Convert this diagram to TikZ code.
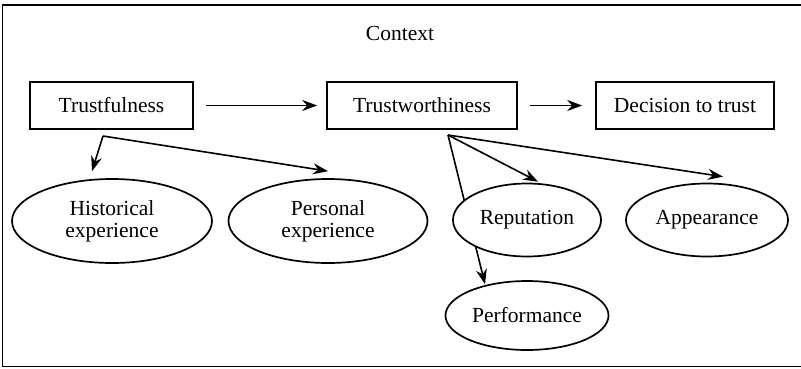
\documentclass[tikz,border=0pt]{standalone}
\usepackage{fontspec}
\setmainfont{Liberation Serif}
\usetikzlibrary{arrows.meta}
\usetikzlibrary{shapes}
\usetikzlibrary{backgrounds}

\begin{document}
\begin{tikzpicture}[x = 1pt, y = -1pt, font = \fontsize{21.5}{22}\selectfont]
	\tikzstyle{BoxStyle} = [shape = rectangle, draw, line width = 1.7pt, minimum height = 47pt, inner sep = 0pt]
	\tikzstyle{OvalStyle} = [shape = ellipse, draw, fill = white, line width = 1.7pt, inner sep = 0pt, align = center]
	\tikzstyle{LinkStyle} = [-{Stealth[length = 15pt, width = 11pt, inset = 5pt]}, line width = 1.6pt]
	\useasboundingbox (0, 0) rectangle (801, 368);
	\draw[line width = 1.8pt] (2.5, 5) rectangle (806, 366.5);
	\node (ctx) at (400, 33) {Context};
	\node[style = BoxStyle, minimum width = 163pt] (tf) at (111.5, 105.5) {Trustfulness};
	\node[style = BoxStyle, minimum width = 190pt] (tw) at (422, 105.5) {Trustworthiness};
	\node[style = BoxStyle, minimum width = 178pt] (dt) at (685, 105.5) {Decision to trust};
	\node[style = OvalStyle, minimum width = 200pt, minimum height = 84pt] (hist) at (112, 221) {Historical\\experience};
	\node[style = OvalStyle, minimum width = 199pt, minimum height = 84pt] (pers) at (328, 221) {Personal\\experience};
	\node[style = OvalStyle, minimum width = 148pt, minimum height = 73pt] (rep) at (527, 220) {Reputation};
	\node[style = OvalStyle, minimum width = 162pt, minimum height = 73pt] (app) at (707, 220) {Appearance};
	\node[style = OvalStyle, minimum width = 163pt, minimum height = 69pt] (perf) at (527, 315.5) {Performance};
	\coordinate (tfOut) at (103, 136);
	\coordinate (twOut) at (448, 135);
	\begin{scope}[on background layer]
	\draw[style = LinkStyle, shorten < = 12pt, shorten > = 9pt] (tf) -- (tw);
	\draw[style = LinkStyle, shorten < = 12pt, shorten > = 13pt] (tw) -- (dt);
	\draw[style = LinkStyle] (tfOut) -- ([xshift = -20pt, yshift = 7pt]hist.north);
	\draw[style = LinkStyle] (tfOut) -- ([yshift = 7pt]pers.north);
	\draw[style = LinkStyle] (twOut) -- ([xshift = 11pt, yshift = 1pt]rep.north);
	\draw[style = LinkStyle] (twOut) -- ([xshift = 16pt, yshift = 6pt]app.north);
	\draw[style = LinkStyle] (twOut) -- ([xshift = -42pt, yshift = -4pt]perf.north);
	\end{scope}
\end{tikzpicture}
\end{document}
